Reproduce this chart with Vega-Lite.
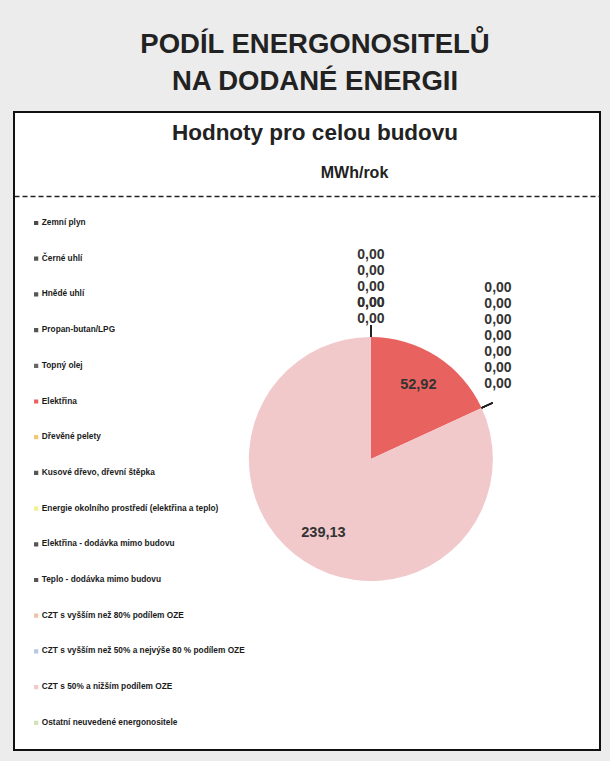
{
  "$schema": "https://vega.github.io/schema/vega-lite/v6.json",
  "width": 586,
  "height": 638,
  "autosize": {"type": "none"},
  "padding": {"left": 14, "top": 112, "right": 10, "bottom": 11},
  "background": "#ececec",
  "view": {"fill": "#ffffff", "stroke": "#111111", "strokeWidth": 2},
  "config": {
    "font": "Liberation Sans",
    "view": {"fill": "#ffffff", "stroke": "#111111", "strokeWidth": 2},
    "locale": {"number": {"decimal": ",", "thousands": " ", "grouping": [3], "currency": ["", " Kč"]}}
  },
  "title": {
    "text": ["PODÍL ENERGONOSITELŮ", "NA DODANÉ ENERGII"],
    "subtitle": "Hodnoty pro celou budovu",
    "fontSize": 27.5,
    "fontWeight": "bold",
    "color": "#222222",
    "lineHeight": 37,
    "subtitleFontSize": 22.5,
    "subtitleFontWeight": "bold",
    "subtitleColor": "#222222",
    "subtitlePadding": 26,
    "anchor": "middle",
    "dx": 8,
    "offset": -32
  },
  "data": {
    "values": [
      {"poradi": 1, "nositel": "Zemní plyn", "hodnota": 0},
      {"poradi": 2, "nositel": "Černé uhlí", "hodnota": 0},
      {"poradi": 3, "nositel": "Hnědé uhlí", "hodnota": 0},
      {"poradi": 4, "nositel": "Propan-butan/LPG", "hodnota": 0},
      {"poradi": 5, "nositel": "Topný olej", "hodnota": 0},
      {"poradi": 6, "nositel": "Elektřina", "hodnota": 52.92},
      {"poradi": 7, "nositel": "Dřevěné pelety", "hodnota": 0},
      {"poradi": 8, "nositel": "Kusové dřevo, dřevní štěpka", "hodnota": 0},
      {"poradi": 9, "nositel": "Energie okolního prostředí (elektřina a teplo)", "hodnota": 0},
      {"poradi": 10, "nositel": "Elektřina - dodávka mimo budovu", "hodnota": 0},
      {"poradi": 11, "nositel": "Teplo - dodávka mimo budovu", "hodnota": 0},
      {"poradi": 12, "nositel": "CZT s vyšším než 80% podílem OZE", "hodnota": 0},
      {"poradi": 13, "nositel": "CZT s vyšším než 50% a nejvýše 80 % podílem OZE", "hodnota": 0},
      {"poradi": 14, "nositel": "CZT s 50% a nižším podílem OZE", "hodnota": 239.13},
      {"poradi": 15, "nositel": "Ostatní neuvedené energonositele", "hodnota": 0}
    ]
  },
  "transform": [
    {"window": [{"op": "sum", "field": "hodnota", "as": "kumulace"}], "sort": [{"field": "poradi", "order": "ascending"}], "frame": [null, 0]},
    {"window": [{"op": "row_number", "as": "poradi_v_bode"}], "groupby": ["kumulace"], "sort": [{"field": "poradi", "order": "ascending"}]}
  ],
  "layer": [
    {
      "mark": {"type": "rule", "opacity": 0},
      "encoding": {
        "x": {
          "datum": 0,
          "type": "quantitative",
          "scale": {"domain": [0, 1]},
          "axis": {
            "orient": "top",
            "offset": -84,
            "domain": true,
            "domainDash": [5, 3],
            "domainColor": "#222222",
            "domainWidth": 1.5,
            "ticks": false,
            "labels": false,
            "grid": false,
            "title": "MWh/rok",
            "titleFontSize": 16,
            "titleFontWeight": "bold",
            "titleColor": "#222222",
            "titlePadding": 16,
            "titleX": 340
          }
        }
      }
    },
    {
      "mark": {"type": "arc", "outerRadius": 122, "x": {"expr": "width*0.609"}, "y": {"expr": "height*0.544"}},
      "encoding": {
        "theta": {"field": "hodnota", "type": "quantitative", "stack": true},
        "order": {"field": "poradi", "type": "quantitative"},
        "color": {
          "field": "nositel",
          "type": "nominal",
          "scale": {
            "domain": ["Zemní plyn", "Černé uhlí", "Hnědé uhlí", "Propan-butan/LPG", "Topný olej", "Elektřina", "Dřevěné pelety", "Kusové dřevo, dřevní štěpka", "Energie okolního prostředí (elektřina a teplo)", "Elektřina - dodávka mimo budovu", "Teplo - dodávka mimo budovu", "CZT s vyšším než 80% podílem OZE", "CZT s vyšším než 50% a nejvýše 80 % podílem OZE", "CZT s 50% a nižším podílem OZE", "Ostatní neuvedené energonositele"],
            "range": ["#4a4a4a", "#555555", "#555555", "#555555", "#666666", "#e8625f", "#f3c77a", "#555555", "#f2f28a", "#555555", "#555555", "#efc3a6", "#b6c8e6", "#f1c9cb", "#d3e2b8"]
          },
          "legend": {
            "orient": "none",
            "legendX": 18,
            "legendY": 107,
            "title": null,
            "padding": 0,
            "symbolType": "square",
            "symbolSize": 18,
            "symbolStrokeWidth": 0,
            "labelFont": "Liberation Sans",
            "labelFontSize": 8.3,
            "labelFontWeight": "bold",
            "labelColor": "#1a1a1a",
            "labelOffset": 1.5,
            "labelLimit": 300,
            "clipHeight": 8,
            "rowPadding": 26.7
          }
        }
      }
    },
    {
      "mark": {"type": "arc", "innerRadius": 122, "outerRadius": 134, "x": {"expr": "width*0.609"}, "y": {"expr": "height*0.544"}, "fill": null, "stroke": "#222222", "strokeWidth": 1.3},
      "encoding": {
        "theta": {"field": "hodnota", "type": "quantitative", "stack": true},
        "order": {"field": "poradi", "type": "quantitative"},
        "detail": {"field": "nositel"},
        "strokeOpacity": {"condition": {"test": "datum.hodnota == 0", "value": 1}, "value": 0}
      }
    },
    {
      "mark": {"type": "text", "radius": 88, "fontSize": 14.5, "fontWeight": "bold", "color": "#333333", "x": {"expr": "width*0.609"}, "y": {"expr": "height*0.544"}},
      "encoding": {
        "theta": {"field": "hodnota", "type": "quantitative", "stack": true},
        "order": {"field": "poradi", "type": "quantitative"},
        "detail": {"field": "nositel"},
        "text": {"field": "hodnota", "type": "quantitative", "format": ".2f", "condition": {"test": "datum.hodnota == 0", "value": ""}}
      }
    },
    {
      "mark": {"type": "text", "radius": 140, "fontSize": 14, "fontWeight": "bold", "color": "#333333", "x": {"expr": "width*0.609"}, "y": {"expr": "height*0.544"}},
      "encoding": {
        "theta": {"field": "kumulace", "type": "quantitative", "stack": null},
        "yOffset": {"field": "poradi_v_bode", "type": "quantitative", "scale": {"domain": [1, 8], "range": [0, -112]}},
        "text": {"field": "hodnota", "type": "quantitative", "format": ".2f", "condition": {"test": "datum.hodnota > 0", "value": ""}}
      }
    }
  ]
}
